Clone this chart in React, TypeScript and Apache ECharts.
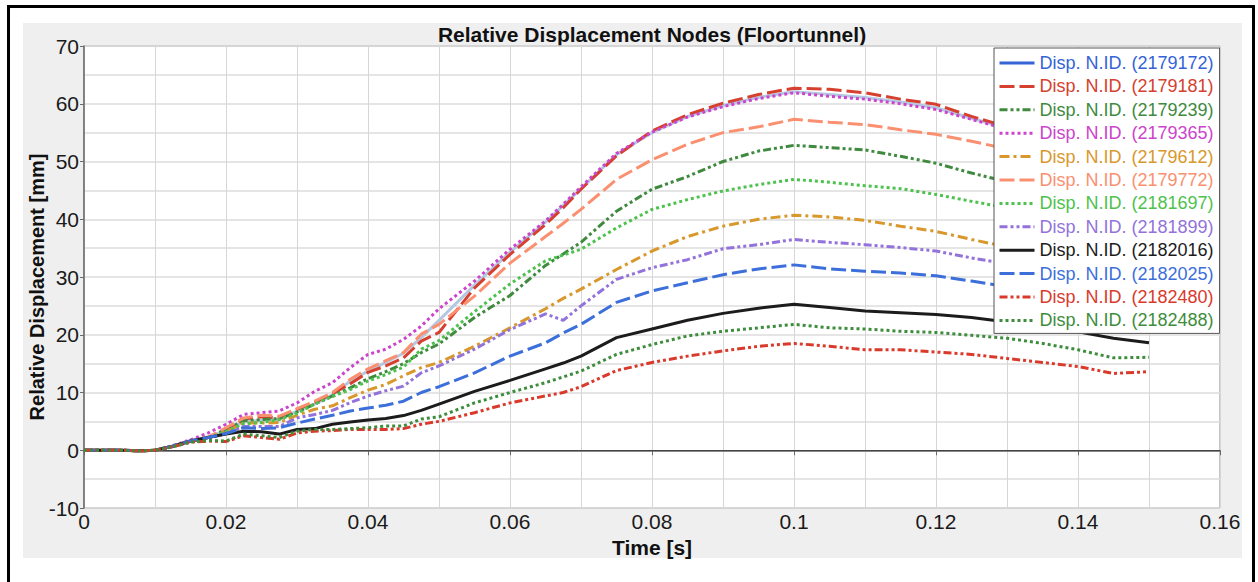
import React, { useEffect, useRef } from "react";
import * as echarts from "echarts";

const TIME = [0, 0.005, 0.008, 0.01, 0.0125, 0.015, 0.0175, 0.02, 0.0225, 0.025, 0.0275, 0.03, 0.0325, 0.035, 0.0375, 0.04, 0.0425, 0.045, 0.0475, 0.05, 0.055, 0.06, 0.065, 0.0675, 0.07, 0.075, 0.08, 0.085, 0.09, 0.095, 0.1, 0.105, 0.11, 0.115, 0.12, 0.125, 0.13, 0.135, 0.14, 0.145, 0.15];

const S2179172 = [0, 0, -0.1, 0, 0.7, 1.6, 2.2, 3.5, 4.9, 5.2, 5.3, 6.8, 8.0, 9.6, 12.0, 13.7, 15.2, 16.8, 19.5, 22.5, 28.6, 34.3, 39.5, 42.4, 45.3, 51.2, 55.0, 57.8, 59.7, 61.1, 62.1, 61.6, 61.1, 60.3, 59.3, 57.5, 55.8, 54.0, 52.3, 50.6, 49.0];
const S2179181 = [0, 0, -0.1, 0, 0.7, 1.6, 2.2, 3.6, 5.4, 5.8, 5.6, 7.1, 8.3, 9.8, 11.5, 13.5, 14.6, 16.0, 18.9, 20.4, 28.1, 33.9, 39.1, 42.0, 45.2, 51.0, 55.3, 58.1, 60.1, 61.6, 62.7, 62.5, 61.9, 60.8, 59.9, 57.8, 56.0, 54.2, 52.5, 50.8, 49.2];
const S2179239 = [0, 0, -0.1, 0, 0.7, 1.6, 2.2, 3.6, 5.1, 5.3, 5.5, 6.6, 8.0, 9.4, 10.8, 12.4, 13.6, 15.0, 16.9, 18.4, 23.0, 26.8, 32.0, 34.0, 36.0, 41.4, 45.2, 47.4, 50.0, 51.8, 52.8, 52.4, 52.0, 50.9, 49.7, 48.0, 46.5, 45.0, 43.5, 42.0, 40.5];
const S2179365 = [0, 0, -0.1, 0, 0.8, 1.8, 3.0, 4.5, 6.2, 6.5, 6.8, 8.2, 10.2, 11.7, 14.3, 16.6, 17.5, 19.2, 21.5, 24.5, 29.3, 34.8, 39.7, 42.6, 45.6, 51.4, 55.1, 57.7, 59.5, 60.9, 61.9, 61.3, 60.8, 60.0, 59.0, 57.3, 55.6, 53.8, 52.0, 50.3, 48.7];
const S2179612 = [0, 0, -0.1, 0, 0.7, 1.6, 2.2, 3.2, 4.7, 4.7, 4.8, 6.05, 7.1, 7.7, 9.1, 10.4, 11.4, 12.9, 14.3, 15.2, 18.0, 21.2, 24.5, 26.3, 27.9, 31.3, 34.5, 37.0, 38.8, 40.0, 40.7, 40.4, 39.8, 38.8, 37.9, 36.5, 35.2, 34.0, 32.8, 31.7, 30.6];
const S2179772 = [0, 0, -0.1, 0, 0.7, 1.6, 2.3, 3.9, 5.6, 6.05, 5.9, 7.2, 8.5, 10.0, 12.3, 14.1, 15.5, 16.9, 20.1, 21.8, 26.7, 32.4, 37.0, 39.3, 41.7, 46.9, 50.3, 53.0, 55.0, 56.0, 57.3, 56.8, 56.4, 55.5, 54.7, 53.5, 52.2, 51.0, 49.8, 48.5, 47.3];
const S2181697 = [0, 0, -0.1, 0, 0.7, 1.6, 2.2, 3.2, 4.6, 4.8, 5.3, 6.4, 8.0, 9.3, 10.5, 12.0, 13.1, 14.4, 17.5, 19.0, 24.0, 28.8, 32.8, 33.8, 34.8, 38.5, 41.7, 43.4, 44.9, 46.0, 46.9, 46.4, 45.8, 45.3, 44.3, 43.1, 42.0, 41.0, 40.0, 39.0, 38.0];
const S2181899 = [0, 0, -0.1, 0, 0.7, 1.6, 2.1, 2.9, 4.1, 4.1, 4.1, 5.6, 6.2, 6.9, 8.25, 9.4, 10.3, 11.1, 13.4, 14.6, 17.5, 20.9, 23.6, 22.5, 25.0, 29.6, 31.6, 33.0, 34.9, 35.6, 36.5, 36.0, 35.6, 35.1, 34.5, 33.3, 32.3, 31.3, 30.3, 29.3, 28.3];
const S2182016 = [0, 0, -0.1, 0, 0.7, 1.6, 2.2, 2.8, 3.3, 3.2, 2.8, 3.6, 3.75, 4.5, 4.9, 5.25, 5.5, 6.0, 6.9, 8.0, 10.2, 12.1, 14.1, 15.1, 16.3, 19.5, 21.0, 22.5, 23.7, 24.6, 25.3, 24.7, 24.1, 23.8, 23.5, 23.0, 22.2, 21.0, 20.5, 19.4, 18.6];
const S2182025 = [0, 0, -0.1, 0, 0.7, 1.6, 2.2, 2.9, 3.9, 3.75, 3.9, 4.7, 5.4, 6.05, 6.8, 7.3, 7.8, 8.5, 10.0, 11.0, 13.4, 16.3, 18.6, 20.3, 21.8, 25.6, 27.6, 29.0, 30.4, 31.4, 32.1, 31.4, 31.0, 30.7, 30.2, 29.3, 28.3, 27.5, 26.8, 26.1, 25.5];
const S2182480 = [0, 0, -0.1, 0, 0.6, 1.4, 1.6, 1.5, 2.5, 2.2, 1.9, 3.0, 3.3, 3.4, 3.6, 3.6, 3.6, 3.75, 4.5, 5.0, 6.5, 8.2, 9.4, 10.0, 11.0, 13.8, 15.2, 16.3, 17.2, 18.0, 18.5, 18.0, 17.4, 17.4, 17.0, 16.6, 15.9, 15.2, 14.5, 13.3, 13.6];
const S2182488 = [0, 0, -0.1, 0, 0.6, 1.4, 1.7, 1.6, 2.8, 2.5, 2.2, 3.3, 3.6, 3.6, 3.75, 3.9, 4.2, 4.2, 5.4, 5.8, 8.2, 10.0, 11.7, 12.7, 13.7, 16.6, 18.3, 19.8, 20.6, 21.2, 21.8, 21.2, 21.0, 20.6, 20.4, 19.9, 19.4, 18.5, 17.4, 16.0, 16.1];

const SERIES_NAMES = [
  "Disp. N.ID. (2179172)",
  "Disp. N.ID. (2179181)",
  "Disp. N.ID. (2179239)",
  "Disp. N.ID. (2179365)",
  "Disp. N.ID. (2179612)",
  "Disp. N.ID. (2179772)",
  "Disp. N.ID. (2181697)",
  "Disp. N.ID. (2181899)",
  "Disp. N.ID. (2182016)",
  "Disp. N.ID. (2182025)",
  "Disp. N.ID. (2182480)",
  "Disp. N.ID. (2182488)",
];
const SERIES_VALUES = [S2179172, S2179181, S2179239, S2179365, S2179612, S2179772, S2181697, S2181899, S2182016, S2182025, S2182480, S2182488];

const Y_TICKS = { min: -10, max: 70, interval: 10 };
const X_TICKS = { min: 0, max: 0.16, interval: 0.02 };

const DASH = [15, 5];
const DOT = [3, 3];
const DASHDOT = [10, 4, 3, 4];
const DASHDOTDOT = [8, 3, 3, 3, 3, 3];

const STYLES = [
  { color: "#b5c8e2", legend: "#3464d6", type: "solid" as any },
  { color: "#d5402f", legend: "#d5402f", type: DASH },
  { color: "#3f8a3f", legend: "#3f8a3f", type: DASHDOTDOT },
  { color: "#cc44cc", legend: "#cc44cc", type: DOT },
  { color: "#d8982c", legend: "#d8982c", type: DASHDOT },
  { color: "#fb9070", legend: "#fb9070", type: DASH },
  { color: "#4ec24e", legend: "#4ec24e", type: DOT },
  { color: "#9373db", legend: "#9373db", type: DASHDOTDOT },
  { color: "#1c1c1c", legend: "#1c1c1c", type: "solid" as any },
  { color: "#3c6fda", legend: "#3c6fda", type: DASH },
  { color: "#d93a2c", legend: "#d93a2c", type: DASHDOTDOT },
  { color: "#3d8d3d", legend: "#3d8d3d", type: DOT },
];

const FONT = "'Liberation Sans', Arial, sans-serif";

export default function App() {
  const ref = useRef<HTMLDivElement>(null);
  useEffect(() => {
    if (!ref.current) return;
    const chart = echarts.init(ref.current, undefined, { renderer: "svg" });
    const series: any[] = SERIES_NAMES.map((name, i) => ({
      name,
      type: "line",
      symbol: "none",
      showSymbol: false,
      smooth: false,
      data: TIME.map((t, k) => [t, SERIES_VALUES[i][k]]),
      lineStyle: { color: STYLES[i].color, width: 3, type: STYLES[i].type, cap: "butt" },
      itemStyle: { color: STYLES[i].color },
      z: 3,
      ...(i === 0
        ? {
            markLine: {
              silent: true,
              symbol: "none",
              label: { show: false },
              lineStyle: { color: "#444", width: 1, type: "solid" },
              data: [{ yAxis: 0 }],
              z: 2,
            },
          }
        : {}),
    }));
    chart.setOption({
      animation: false,
      backgroundColor: "transparent",
      textStyle: { fontFamily: FONT },
      grid: {
        left: 84,
        top: 46,
        right: 38,
        bottom: 74,
        show: true,
        backgroundColor: "#ffffff",
        borderColor: "#8a8a8a",
        borderWidth: 1,
      },
      legend: {
        orient: "vertical",
        left: 994,
        top: 48,
        padding: [6, 6, 4, 4],
        itemWidth: 35,
        itemHeight: 14,
        itemGap: 5.4,
        backgroundColor: "#ffffff",
        borderColor: "#555",
        borderWidth: 1,
        borderRadius: 0,
        textStyle: { fontSize: 18, fontFamily: FONT, lineHeight: 18 },
        itemStyle: { opacity: 0, borderWidth: 0 },
        data: SERIES_NAMES.map((name, i) => ({
          name,
          textStyle: { color: STYLES[i].legend },
          lineStyle: { color: STYLES[i].legend, width: 3 },
          itemStyle: { color: "rgba(0,0,0,0)", opacity: 0, borderWidth: 0 },
        })),
      },
      xAxis: {
        type: "value",
        min: X_TICKS.min,
        max: X_TICKS.max,
        interval: X_TICKS.interval,
        axisLine: { show: true, lineStyle: { color: "#6a6a6a", width: 1.5 } },
        axisTick: { show: true, length: 5, lineStyle: { color: "#6a6a6a" } },
        axisLabel: {
          color: "#1a1a1a",
          fontSize: 21,
          margin: 3,
          fontFamily: FONT,
          formatter: (v: number) => String(Math.round(v * 100) / 100),
        },
        splitLine: { show: true, lineStyle: { color: "#d6d6d6", width: 1 } },
        minorTick: { show: false, splitNumber: 2 },
        minorSplitLine: { show: true, lineStyle: { color: "#d6d6d6", width: 1 } },
      },
      yAxis: {
        type: "value",
        min: Y_TICKS.min,
        max: Y_TICKS.max,
        interval: Y_TICKS.interval,
        axisLine: { show: true, lineStyle: { color: "#6a6a6a", width: 1.5 } },
        axisTick: { show: true, length: 4, lineStyle: { color: "#6a6a6a" } },
        axisLabel: { color: "#1a1a1a", fontSize: 21, margin: 5, fontFamily: FONT },
        splitLine: { show: true, lineStyle: { color: "#dcdcdc", width: 1.5 } },
        minorTick: { show: false, splitNumber: 2 },
        minorSplitLine: { show: true, lineStyle: { color: "#dcdcdc", width: 1.5 } },
      },
      graphic: [
        {
          type: "text",
          x: 652,
          y: 34,
          style: {
            text: "Relative Displacement Nodes (Floortunnel)",
            fill: "#111",
            font: `bold 21px ${FONT}`,
            textAlign: "center",
            textVerticalAlign: "middle",
          },
        },
        {
          type: "text",
          x: 652,
          y: 547,
          style: {
            text: "Time [s]",
            fill: "#111",
            font: `bold 21px ${FONT}`,
            textAlign: "center",
            textVerticalAlign: "middle",
          },
        },
        {
          type: "text",
          x: 37,
          y: 287,
          rotation: Math.PI / 2,
          style: {
            text: "Relative Displacement [mm]",
            fill: "#111",
            font: `bold 20px ${FONT}`,
            textAlign: "center",
            textVerticalAlign: "middle",
          },
        },
      ],
      series,
    });
    return () => chart.dispose();
  }, []);

  return (
    <div style={{ position: "fixed", left: 0, top: 0, width: 1258, height: 582, background: "#fff", overflow: "hidden" }}>
      <div
        style={{
          position: "absolute",
          left: 7,
          top: 5,
          width: 1242,
          height: 620,
          border: "3px solid #000",
        }}
      />
      <div style={{ position: "absolute", left: 23, top: 23, width: 1219, height: 535, background: "#efefef" }} />
      <div ref={ref} style={{ position: "absolute", left: 0, top: 0, width: 1258, height: 582 }} />
    </div>
  );
}
